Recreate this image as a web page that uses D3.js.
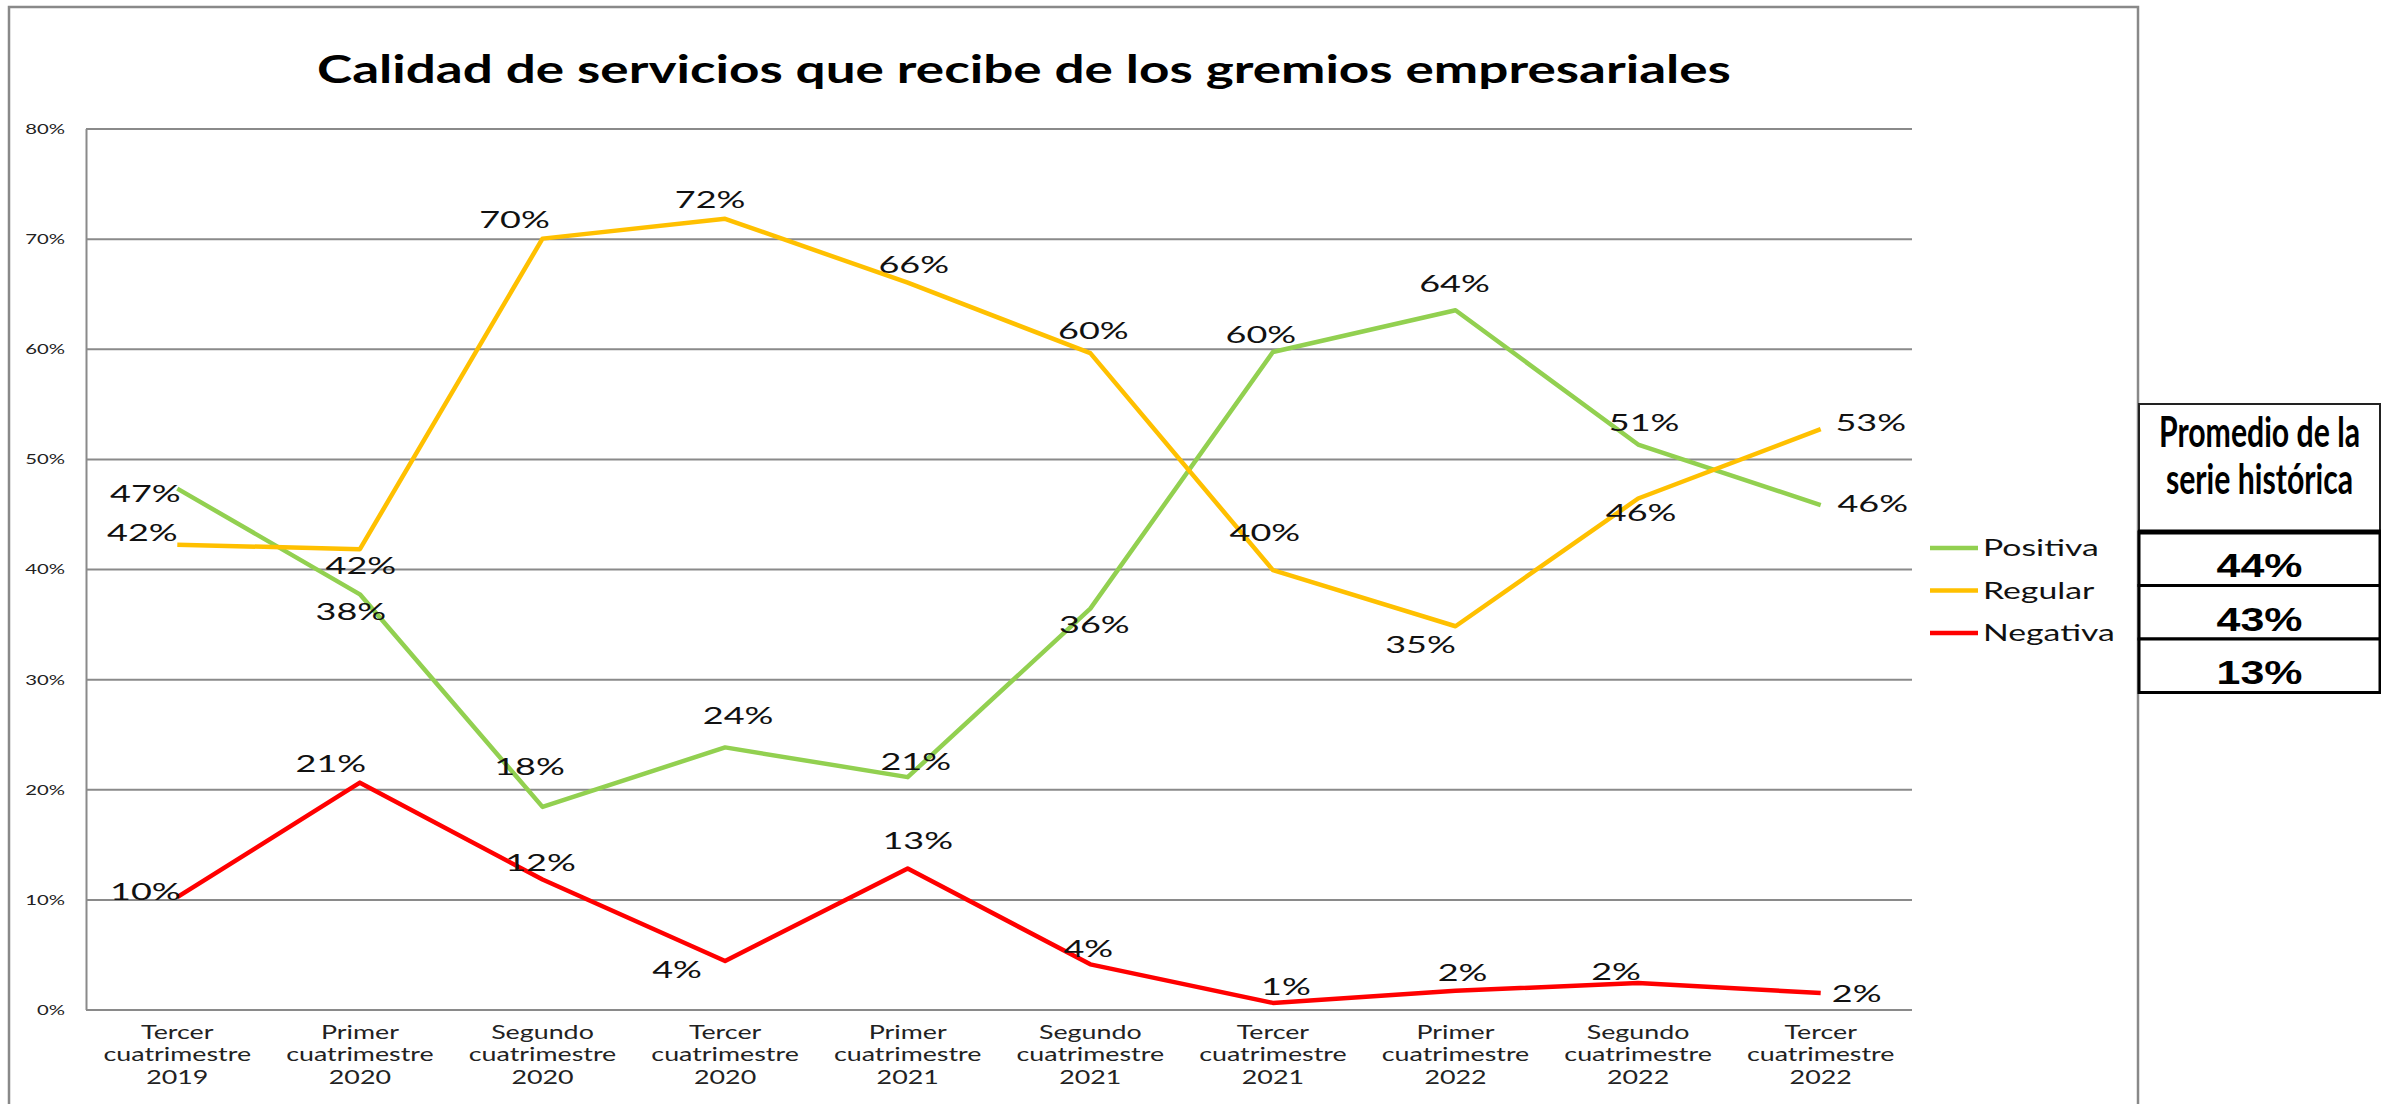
<!DOCTYPE html>
<html>
<head>
<meta charset="utf-8">
<script src="https://cdn.jsdelivr.net/npm/d3@7"></script>
<style>
  body { margin: 0; background: #fff; }
  svg { display: block; }
</style>
</head>
<body>
<script>
const W = 2381, H = 1104;

// Periods on the x axis (each split over three lines)
const categories = [
    ["Tercer", "cuatrimestre", "2019"],
    ["Primer", "cuatrimestre", "2020"],
    ["Segundo", "cuatrimestre", "2020"],
    ["Tercer", "cuatrimestre", "2020"],
    ["Primer", "cuatrimestre", "2021"],
    ["Segundo", "cuatrimestre", "2021"],
    ["Tercer", "cuatrimestre", "2021"],
    ["Primer", "cuatrimestre", "2022"],
    ["Segundo", "cuatrimestre", "2022"],
    ["Tercer", "cuatrimestre", "2022"]
];

// Series values, in percent
const positiva = [47.3, 37.7, 18.4, 23.8, 21.1, 36.4, 59.7, 63.5, 51.3, 45.8];
const regular  = [42.2, 41.8, 70.0, 71.8, 66.0, 59.6, 39.9, 34.8, 46.4, 52.7];
const negativa = [10.2, 20.6, 11.8, 4.4, 12.8, 4.1, 0.6, 1.7, 2.4, 1.5];

const seriesNames = ["Positiva", "Regular", "Negativa"];
const yTicks = [0, 10, 20, 30, 40, 50, 60, 70, 80];

// Averages of the whole historical series (table on the right)
const averages = [44, 43, 13];

// Manual nudges of the data labels, relative to their point [dx, dy]
const labelNudges = [
    [[-32, 5], [-9, 17], [-13, -41], [13, -32], [8, -16], [4, 16], [-12, -18], [-1, -27], [6, -22], [52, -2]],
    [[-35, -12], [1, 16], [-28, -19], [-15, -19], [6, -18], [3, -23], [-8, -38], [-35, 18], [3, 14], [50, -7]],
    [[-32, -6], [-29, -19], [-2, -17], [-48, 8], [10, -28], [-2, -16], [13, -17], [7, -18], [-22, -12], [36, 0]]
];

const colors = ["#92d050", "#ffc000", "#ff0000"];
const FONT = "Lato, 'Open Sans', sans-serif";

const series = [positiva, regular, negativa];

const svg = d3.select("body").append("svg")
    .attr("width", W).attr("height", H);

// Outer chart frame
svg.append("rect")
    .attr("x", 9).attr("y", 7)
    .attr("width", 2129).attr("height", H)
    .attr("fill", "#fff")
    .attr("stroke", "#898989").attr("stroke-width", 2.5);

// Puts a text at (x, y), stretched horizontally by sx
// (the original picture is stretched sideways).
function putText(g, x, y, sx) {
    return g.append("text")
        .attr("transform", `translate(${x},${y}) scale(${sx},1)`);
}

// Title
putText(svg, 1024, 83, 1.36)
    .attr("text-anchor", "middle")
    .attr("font-family", FONT)
    .attr("font-weight", 700)
    .attr("font-size", 39)
    .attr("fill", "#000")
    .text("Calidad de servicios que recibe de los gremios empresariales");

const x = d3.scalePoint()
    .domain(d3.range(categories.length))
    .range([86, 1912])
    .padding(0.5);

const y = d3.scaleLinear()
    .domain([0, 80])
    .range([1009.5, 128.5]);

// Y axis with gridlines
const yAxis = svg.append("g")
    .attr("transform", "translate(86,0)")
    .call(d3.axisLeft(y)
        .tickValues(yTicks)
        .tickSize(-(1912 - 86))
        .tickSizeOuter(0)
        .tickFormat(d => d + "%"));

yAxis.select(".domain").attr("stroke", "#8a8a8a").attr("stroke-width", 2);
yAxis.selectAll(".tick line").attr("stroke", "#8a8a8a").attr("stroke-width", 2);
yAxis.selectAll(".tick text")
    .attr("x", null)
    .attr("transform", "translate(-21,0) scale(1.45,1)")
    .attr("dy", "0.35em")
    .attr("font-family", FONT)
    .attr("font-size", 14)
    .attr("fill", "#222");

// X axis category labels
const xAxis = svg.append("g");
categories.forEach((lines, i) => {
    const t = putText(xAxis, x(i), 1039, 1.45)
        .attr("text-anchor", "middle")
        .attr("font-family", FONT)
        .attr("font-size", 18.5)
        .attr("fill", "#222");
    lines.forEach((s, k) => {
        t.append("tspan").attr("x", 0).attr("y", k * 22.5).text(s);
    });
});

// Lines
const line = d3.line()
    .x((d, i) => x(i))
    .y(d => y(d));

series.forEach((vals, s) => {
    svg.append("path")
        .datum(vals)
        .attr("fill", "none")
        .attr("stroke", colors[s])
        .attr("stroke-width", 4.5)
        .attr("stroke-linejoin", "round")
        .attr("d", line);
});

// Data labels
series.forEach((vals, s) => {
    vals.forEach((v, i) => {
        const [dx, dy] = labelNudges[s][i];
        putText(svg, x(i) + dx, y(v) + dy, 1.5)
            .attr("text-anchor", "middle")
            .attr("dy", "0.36em")
            .attr("font-family", FONT)
            .attr("font-size", 24)
            .attr("fill", "#111")
            .text(Math.round(v) + "%");
    });
});

// Legend
const legend = svg.append("g");
seriesNames.forEach((name, s) => {
    const ly = 548 + s * 42.5;
    legend.append("line")
        .attr("x1", 1930).attr("x2", 1978)
        .attr("y1", ly).attr("y2", ly)
        .attr("stroke", colors[s]).attr("stroke-width", 4.5);
    putText(legend, 1983, ly, 1.5)
        .attr("dy", "0.36em")
        .attr("font-family", FONT)
        .attr("font-size", 22.5)
        .attr("fill", "#111")
        .text(name);
});

// Table with the averages of the historical series
const table = svg.append("g");
const tx0 = 2139, tx1 = 2380, tcx = (tx0 + tx1) / 2;
table.append("rect")
    .attr("x", tx0).attr("y", 404)
    .attr("width", tx1 - tx0).attr("height", 128)
    .attr("fill", "#fff").attr("stroke", "#222").attr("stroke-width", 2);
putText(table, tcx, 447, 0.72)
    .attr("text-anchor", "middle")
    .attr("font-family", FONT).attr("font-weight", 700)
    .attr("font-size", 42).attr("fill", "#000")
    .text("Promedio de la");
putText(table, tcx, 494, 0.72)
    .attr("text-anchor", "middle")
    .attr("font-family", FONT).attr("font-weight", 700)
    .attr("font-size", 42).attr("fill", "#000")
    .text("serie histórica");

const rowH = 53.5;
averages.forEach((a, i) => {
    const ry = 532 + i * rowH;
    table.append("rect")
        .attr("x", tx0).attr("y", ry)
        .attr("width", tx1 - tx0).attr("height", rowH)
        .attr("fill", "#fff").attr("stroke", "#000").attr("stroke-width", 3);
    putText(table, tcx, ry + 45, 1.3)
        .attr("text-anchor", "middle")
        .attr("font-family", "'Liberation Sans', Arial, sans-serif")
        .attr("font-weight", 700)
        .attr("font-size", 33)
        .attr("fill", "#000")
        .text(a + "%");
});
table.append("line")
    .attr("x1", tx0 - 1).attr("x2", tx1 + 1)
    .attr("y1", 532).attr("y2", 532)
    .attr("stroke", "#000").attr("stroke-width", 5);
</script>
</body>
</html>
